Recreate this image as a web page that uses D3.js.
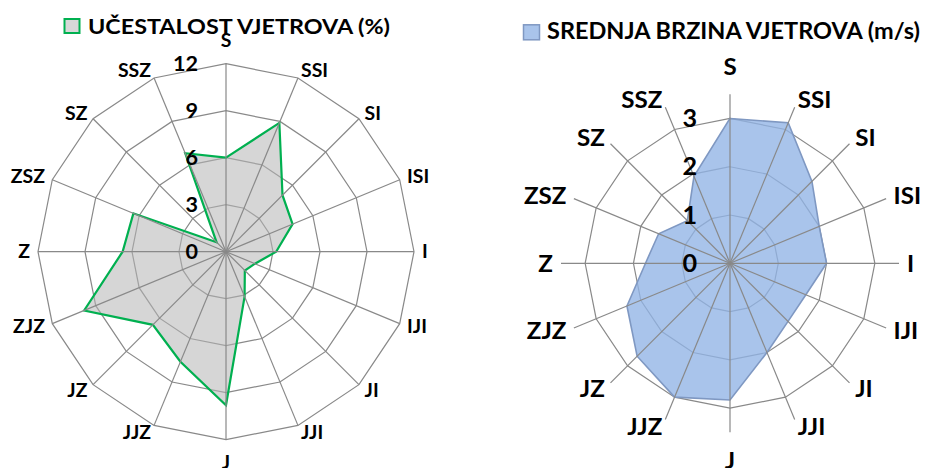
<!DOCTYPE html>
<html>
<head>
<meta charset="utf-8">
<script src="https://cdn.jsdelivr.net/npm/d3@7"></script>
<style>
  html, body { margin: 0; padding: 0; background: #fff; }
  svg { display: block; font-family: Lato, "Open Sans", sans-serif; font-weight: bold; }
</style>
</head>
<body>
<svg id="chart" width="925" height="468"></svg>
<script>
// wind directions, clockwise from north
const directions = ['S', 'SSI', 'SI', 'ISI', 'I', 'IJI', 'JI', 'JJI', 'J', 'JJZ', 'JZ', 'ZJZ', 'Z', 'ZSZ', 'SZ', 'SSZ'];
// wind frequency (%)
const frequency = [6.0, 8.9, 5.1, 4.6, 3.2, 2.0, 1.7, 3.1, 9.8, 7.6, 6.6, 9.8, 6.6, 6.4, 0.85, 6.8];
// mean wind speed (m/s)
const speed = [3.0, 3.15, 2.4, 2.0, 2.0, 1.7, 1.7, 2.0, 2.83, 3.0, 2.72, 2.31, 1.75, 1.6, 1.25, 1.95];
const frequencyTicks = [0, 3, 6, 9, 12];
const speedTicks = [0, 1, 2, 3];

const svg = d3.select('#chart');

function drawRadar(opt) {
  const g = svg.append('g').attr('transform', `translate(${opt.cx},${opt.cy})`);
  const r = d3.scaleLinear().domain([0, opt.max]).range([0, opt.radius]);
  const angle = d3.scalePoint().domain(directions).range([0, 2 * Math.PI * (directions.length - 1) / directions.length]);

  const ring = d3.lineRadial()
    .angle(d => angle(d))
    .curve(d3.curveLinearClosed);

  // rings (behind the series)
  g.selectAll('.ring')
    .data(opt.rings)
    .enter()
    .append('path')
    .attr('class', 'ring')
    .attr('d', t => ring.radius(() => r(t))(directions))
    .attr('fill', 'none')
    .attr('stroke', '#898989')
    .attr('stroke-width', 1.2);

  // series
  const area = d3.lineRadial()
    .angle((d, i) => angle(directions[i]))
    .radius(d => r(d))
    .curve(d3.curveLinearClosed);

  g.append('path')
    .attr('d', area(opt.values))
    .attr('fill', opt.fill)
    .attr('fill-opacity', opt.fillOpacity)
    .attr('stroke', opt.stroke)
    .attr('stroke-width', opt.strokeWidth)
    .attr('stroke-linejoin', 'miter');

  // spokes on top
  g.selectAll('.spoke')
    .data(directions)
    .enter()
    .append('line')
    .attr('class', 'spoke')
    .attr('x2', d => r(opt.max) * Math.sin(angle(d)))
    .attr('y2', d => -r(opt.max) * Math.cos(angle(d)))
    .attr('stroke', '#898989')
    .attr('stroke-width', 1.2);

  // category labels
  const labelPos = d => {
    const a = angle(d);
    const s = Math.abs(Math.sin(a)) < 0.01 ? opt.radius + opt.vPad : opt.radius + opt.pad;
    return [s * Math.sin(a), -s * Math.cos(a)];
  };
  g.selectAll('.cat')
    .data(directions)
    .enter()
    .append('text')
    .attr('class', 'cat')
    .attr('transform', d => `translate(${labelPos(d)[0]},${labelPos(d)[1]}) scale(${opt.sx},1)`)
    .attr('dy', '0.36em')
    .attr('text-anchor', d => {
      const s = Math.sin(angle(d));
      return Math.abs(s) < 0.01 ? 'middle' : (s > 0 ? 'start' : 'end');
    })
    .attr('font-size', opt.catSize)
    .attr('fill', '#000')
    .text(d => d);

  // value axis labels
  g.selectAll('.tick')
    .data(opt.ticks)
    .enter()
    .append('text')
    .attr('class', 'tick')
    .attr('transform', t => `translate(${-opt.tickGap},${-r(t)}) scale(${opt.sx},1)`)
    .attr('dy', '0.36em')
    .attr('text-anchor', 'end')
    .attr('font-size', opt.tickSize)
    .attr('fill', '#000')
    .text(t => t);

  // legend
  const lg = svg.append('g').attr('transform', `translate(${opt.legend.x},${opt.legend.y})`);
  lg.append('rect')
    .attr('x', 0.5).attr('y', -14.5)
    .attr('width', opt.legend.box).attr('height', opt.legend.box - 1)
    .attr('fill', opt.legend.fill)
    .attr('stroke', opt.stroke)
    .attr('stroke-width', opt.legend.strokeWidth);
  lg.append('text')
    .attr('x', opt.legend.textX)
    .attr('y', 0)
    .attr('font-size', opt.legend.size)
    .attr('textLength', opt.legend.width)
    .attr('lengthAdjust', 'spacingAndGlyphs')
    .attr('fill', '#000')
    .text(opt.legend.label);
}

drawRadar({
  cx: 226, cy: 251.7, radius: 188, max: 12,
  rings: [3, 6, 9, 12],
  values: frequency,
  ticks: frequencyTicks,
  fill: 'rgb(180,180,180)', fillOpacity: 0.55,
  stroke: '#00b050', strokeWidth: 2.2,
  pad: 8, vPad: 23, catSize: 18, tickSize: 20, tickGap: 28, sx: 1.08,
  legend: { x: 64, y: 33.5, box: 15, fill: '#d8d8d8', strokeWidth: 2, textX: 24, size: 21, width: 302, label: 'UČESTALOST VJETROVA (%)' }
});

drawRadar({
  cx: 730, cy: 263.3, radius: 169, max: 3.5,
  rings: [1, 2, 3],
  values: speed,
  ticks: speedTicks,
  fill: 'rgb(145,179,229)', fillOpacity: 0.78,
  stroke: '#7f98c2', strokeWidth: 1.6,
  pad: 8, vPad: 28, catSize: 23, tickSize: 24, tickGap: 33, sx: 1.05,
  legend: { x: 523, y: 39.3, box: 16, fill: '#a9c4eb', strokeWidth: 1.5, textX: 24, size: 23, width: 373, label: 'SREDNJA BRZINA VJETROVA (m/s)' }
});
</script>
</body>
</html>
